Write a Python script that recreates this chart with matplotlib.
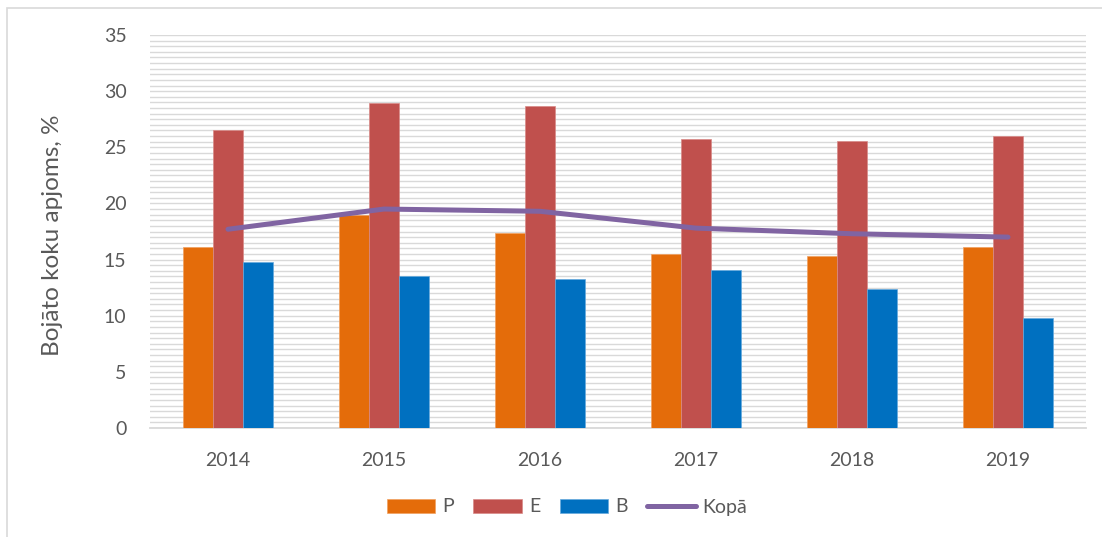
import numpy as np
import matplotlib.pyplot as plt
from matplotlib.patches import Rectangle

years = ['2014', '2015', '2016', '2017', '2018', '2019']
p_vals = [16.1, 19.0, 17.4, 15.5, 15.3, 16.1]
e_vals = [26.5, 28.9, 28.7, 25.7, 25.6, 26.0]
b_vals = [14.8, 13.5, 13.3, 14.1, 12.4, 9.8]
kopa_vals = [17.7, 19.5, 19.3, 17.8, 17.3, 17.0]

plt.rcParams['font.family'] = ['Lato', 'DejaVu Sans']

W, H = 1102, 537
fig = plt.figure(figsize=(W / 100, H / 100), dpi=100)

# chart border (only left and top edges visible in the reference)
fig.patches.append(Rectangle((7 / W, -0.05), 1.1, 1 - 8 / H + 0.05,
                             transform=fig.transFigure, fill=False,
                             edgecolor='#d9d9d9', linewidth=1.2))

ax = fig.add_axes([150 / W, (H - 428) / H, (1086 - 150) / W, (428 - 35) / H])

x = np.arange(len(years))
w = 0.193
hp = ax.bar(x - w, p_vals, w, color='#e46c0a', edgecolor='#f0a060', linewidth=0.5, label='P', zorder=3)
he = ax.bar(x, e_vals, w, color='#c0504d', edgecolor='#d88a88', linewidth=0.5, label='E', zorder=3)
hb = ax.bar(x + w, b_vals, w, color='#0070c0', edgecolor='#66aadd', linewidth=0.5, label='B', zorder=3)
hk, = ax.plot(x, kopa_vals, color='#8064a2', linewidth=3.6, solid_capstyle='round', label='Kopā', zorder=4)

ax.set_xlim(-0.5, len(years) - 0.5)
ax.set_ylim(0, 35)
ax.set_yticks(np.arange(0, 36, 5))
ax.set_yticks(np.arange(0, 35.1, 0.5), minor=True)
ax.set_xticks(x)
ax.set_xticklabels(years)
ax.grid(axis='y', which='both', color='#d9d9d9', linewidth=1.0, zorder=0)
ax.set_axisbelow(True)

for s in ['top', 'right', 'left']:
    ax.spines[s].set_visible(False)
ax.spines['bottom'].set_color('#d9d9d9')
ax.spines['bottom'].set_linewidth(1.3)

ax.tick_params(axis='both', which='both', length=0, labelsize=14, labelcolor='#595959')
ax.tick_params(axis='y', pad=17)
ax.tick_params(axis='x', pad=17)

fig.text(53 / W, (H - 235) / H, 'Bojāto koku apjoms, %', rotation=90,
         ha='center', va='center', fontsize=17.5, color='#595959')

ax.legend([hp, he, hb, hk], ['P', 'E', 'B', 'Kopā'],
          loc='center', bbox_to_anchor=(0.5 + 16 / W, (H - 507) / H), bbox_transform=fig.transFigure,
          ncol=4, frameon=False, fontsize=14, handlelength=2.5, handleheight=0.7,
          handletextpad=0.35, columnspacing=1.0, labelcolor='#595959')

fig.savefig('out.png', dpi=100)
